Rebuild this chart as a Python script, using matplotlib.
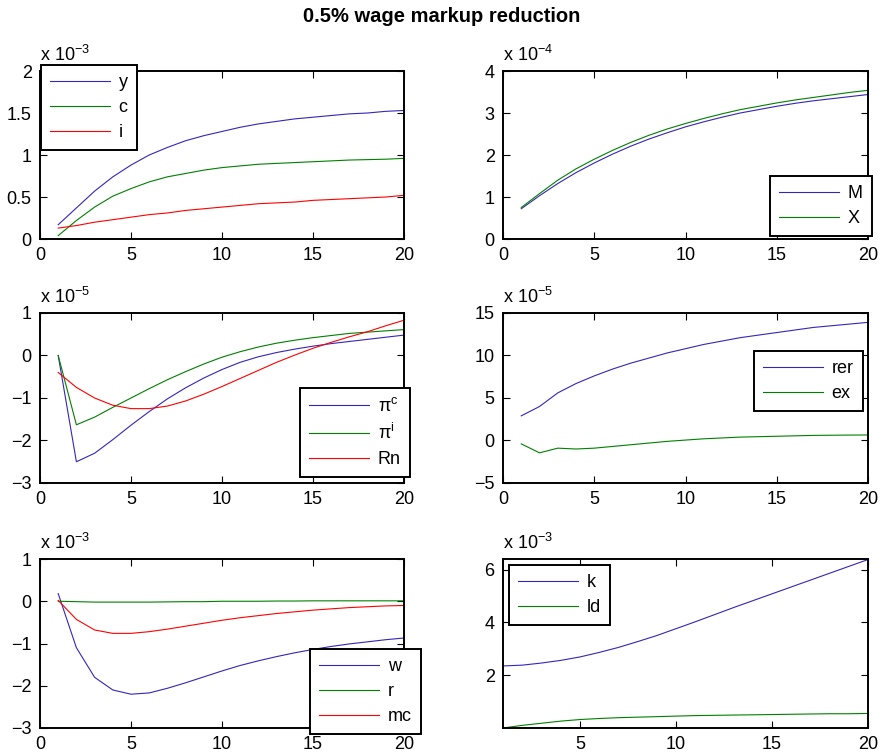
import numpy as np
import matplotlib
matplotlib.use('Agg')
import matplotlib.pyplot as plt

plt.rcParams['font.family'] = ['Liberation Sans', 'DejaVu Sans']
plt.rcParams['mathtext.fontset'] = 'custom'
plt.rcParams['mathtext.rm'] = 'Liberation Sans'
plt.rcParams['mathtext.it'] = 'Liberation Sans:italic'

# periods
t = np.arange(1, 21)

# panel 1 (x 1e-3)
y_ = [0.17, 0.37, 0.57, 0.74, 0.88, 1.00, 1.09, 1.17, 1.23, 1.28, 1.33, 1.37, 1.40, 1.43, 1.45, 1.47, 1.49, 1.50, 1.52, 1.53]
c_ = [0.04, 0.22, 0.38, 0.51, 0.60, 0.68, 0.74, 0.78, 0.82, 0.85, 0.87, 0.89, 0.90, 0.91, 0.92, 0.93, 0.94, 0.945, 0.95, 0.96]
i_ = [0.13, 0.16, 0.20, 0.23, 0.26, 0.29, 0.31, 0.34, 0.36, 0.38, 0.40, 0.42, 0.43, 0.44, 0.46, 0.47, 0.48, 0.49, 0.50, 0.52]

# panel 2 (x 1e-4)
M_ = [0.72, 1.03, 1.32, 1.58, 1.81, 2.02, 2.21, 2.38, 2.53, 2.67, 2.79, 2.90, 3.00, 3.08, 3.16, 3.23, 3.29, 3.34, 3.39, 3.44]
X_ = [0.75, 1.08, 1.40, 1.67, 1.90, 2.11, 2.30, 2.47, 2.62, 2.75, 2.87, 2.98, 3.08, 3.16, 3.24, 3.31, 3.37, 3.43, 3.49, 3.54]

# panel 3 (x 1e-5)
pic = [0.0, -2.5, -2.3, -1.98, -1.64, -1.32, -1.02, -0.76, -0.53, -0.33, -0.16, -0.03, 0.07, 0.15, 0.22, 0.28, 0.33, 0.38, 0.43, 0.48]
pii = [0.0, -1.63, -1.45, -1.22, -1.0, -0.78, -0.57, -0.38, -0.2, -0.04, 0.09, 0.2, 0.29, 0.36, 0.42, 0.47, 0.52, 0.55, 0.58, 0.61]
Rn = [-0.4, -0.75, -1.0, -1.17, -1.25, -1.25, -1.19, -1.07, -0.91, -0.73, -0.54, -0.35, -0.16, 0.01, 0.17, 0.31, 0.44, 0.56, 0.7, 0.83]

# panel 4 (x 1e-5)
rer = [2.9, 4.0, 5.6, 6.7, 7.6, 8.4, 9.1, 9.7, 10.3, 10.8, 11.3, 11.7, 12.1, 12.4, 12.7, 13.0, 13.3, 13.5, 13.7, 13.9]
ex = [-0.4, -1.45, -0.9, -1.0, -0.9, -0.7, -0.5, -0.3, -0.1, 0.05, 0.2, 0.3, 0.4, 0.45, 0.5, 0.55, 0.6, 0.62, 0.64, 0.65]

# panel 5 (x 1e-3)
w_ = [0.18, -1.1, -1.8, -2.1, -2.2, -2.17, -2.06, -1.93, -1.79, -1.65, -1.52, -1.41, -1.31, -1.22, -1.14, -1.07, -1.01, -0.96, -0.91, -0.87]
r_ = [0.0, -0.01, -0.02, -0.02, -0.02, -0.02, -0.015, -0.01, -0.01, 0.0, 0.0, 0.0, 0.005, 0.005, 0.01, 0.01, 0.01, 0.01, 0.01, 0.01]
mc = [0.02, -0.43, -0.68, -0.76, -0.76, -0.72, -0.66, -0.59, -0.52, -0.45, -0.39, -0.34, -0.29, -0.25, -0.21, -0.18, -0.15, -0.13, -0.11, -0.10]

# panel 6 (x 1e-3)
k_ = [2.35, 2.38, 2.46, 2.56, 2.69, 2.86, 3.05, 3.27, 3.50, 3.76, 4.02, 4.29, 4.56, 4.82, 5.08, 5.34, 5.60, 5.86, 6.12, 6.38]
ld = [0.0, 0.10, 0.18, 0.26, 0.32, 0.36, 0.39, 0.41, 0.43, 0.45, 0.47, 0.48, 0.49, 0.50, 0.51, 0.52, 0.53, 0.54, 0.54, 0.55]

BLUE = '#3526b8'
GREEN = '#008000'
RED = '#ff0000'
FS = 13

W, H = 883, 756
fig = plt.figure(figsize=(W / 100, H / 100), dpi=100)


def px_axes(l, t_, r, b):
	return fig.add_axes([l / W, 1 - b / H, (r - l) / W, (b - t_) / H])


def style(ax, expo):
	for s in ax.spines.values():
		s.set_linewidth(1.4)
	ax.tick_params(direction='in', top=True, right=True, length=5, width=0.8,
				   labelsize=FS, pad=6)
	ax.text(0, 1.035, r'x 10$^{\mathregular{%d}}$' % expo, transform=ax.transAxes,
			fontsize=FS, ha='left', va='bottom')


def leg(ax, x, y):
	lg = ax.legend(loc='upper left', bbox_to_anchor=(x / W, 1 - y / H),
				   bbox_transform=fig.transFigure, borderaxespad=0,
				   fontsize=FS, fancybox=False, framealpha=1, edgecolor='black',
				   handlelength=3.3, labelspacing=0.45, borderpad=0.5, handletextpad=0.5)
	lg.get_frame().set_linewidth(1.4)
	lg.set_zorder(5)


LW = 0.8

# row 1 left
ax = px_axes(40, 71, 404, 239)
ax.plot(t, y_, color=BLUE, lw=LW, label='y')
ax.plot(t, c_, color=GREEN, lw=LW, label='c')
ax.plot(t, i_, color=RED, lw=LW, label='i')
ax.set_xlim(0, 20); ax.set_ylim(0, 2)
ax.set_xticks([0, 5, 10, 15, 20]); ax.set_yticks([0, 0.5, 1, 1.5, 2])
ax.set_yticklabels(['0', '0.5', '1', '1.5', '2'])
style(ax, -3)
leg(ax, 41, 65)

# row 1 right
ax = px_axes(503, 71, 868, 239)
ax.plot(t, M_, color=BLUE, lw=LW, label='M')
ax.plot(t, X_, color=GREEN, lw=LW, label='X')
ax.set_xlim(0, 20); ax.set_ylim(0, 4)
ax.set_xticks([0, 5, 10, 15, 20]); ax.set_yticks([0, 1, 2, 3, 4])
style(ax, -4)
leg(ax, 770, 176)

# row 2 left
ax = px_axes(40, 313, 404, 483)
ax.plot(t, pic, color=BLUE, lw=LW, label=r'$\mathregular{\pi^c}$')
ax.plot(t, pii, color=GREEN, lw=LW, label=r'$\mathregular{\pi^i}$')
ax.plot(t, Rn, color=RED, lw=LW, label='Rn')
ax.set_xlim(0, 20); ax.set_ylim(-3, 1)
ax.set_xticks([0, 5, 10, 15, 20]); ax.set_yticks([-3, -2, -1, 0, 1])
style(ax, -5)
leg(ax, 300, 388)

# row 2 right
ax = px_axes(503, 313, 868, 483)
ax.plot(t, rer, color=BLUE, lw=LW, label='rer')
ax.plot(t, ex, color=GREEN, lw=LW, label='ex')
ax.set_xlim(0, 20); ax.set_ylim(-5, 15)
ax.set_xticks([0, 5, 10, 15, 20]); ax.set_yticks([-5, 0, 5, 10, 15])
style(ax, -5)
leg(ax, 754, 351)

# row 3 left
ax = px_axes(40, 559, 404, 728)
ax.plot(t, w_, color=BLUE, lw=LW, label='w')
ax.plot(t, r_, color=GREEN, lw=LW, label='r')
ax.plot(t, mc, color=RED, lw=LW, label='mc')
ax.set_xlim(0, 20); ax.set_ylim(-3, 1)
ax.set_xticks([0, 5, 10, 15, 20]); ax.set_yticks([-3, -2, -1, 0, 1])
style(ax, -3)
leg(ax, 310, 649)

# row 3 right
ax = px_axes(503, 559, 868, 728)
ax.plot(t, k_, color=BLUE, lw=LW, label='k')
ax.plot(t, ld, color=GREEN, lw=LW, label='ld')
ax.set_xlim(1, 20); ax.set_ylim(0, 6.4)
ax.set_xticks([5, 10, 15, 20]); ax.set_yticks([2, 4, 6])
style(ax, -3)
leg(ax, 509, 565)

fig.text(0.5, 1 - 16 / H, '0.5% wage markup reduction', ha='center', va='center',
		 fontsize=14.5, fontweight='bold')

fig.savefig('out.png', dpi=100)
